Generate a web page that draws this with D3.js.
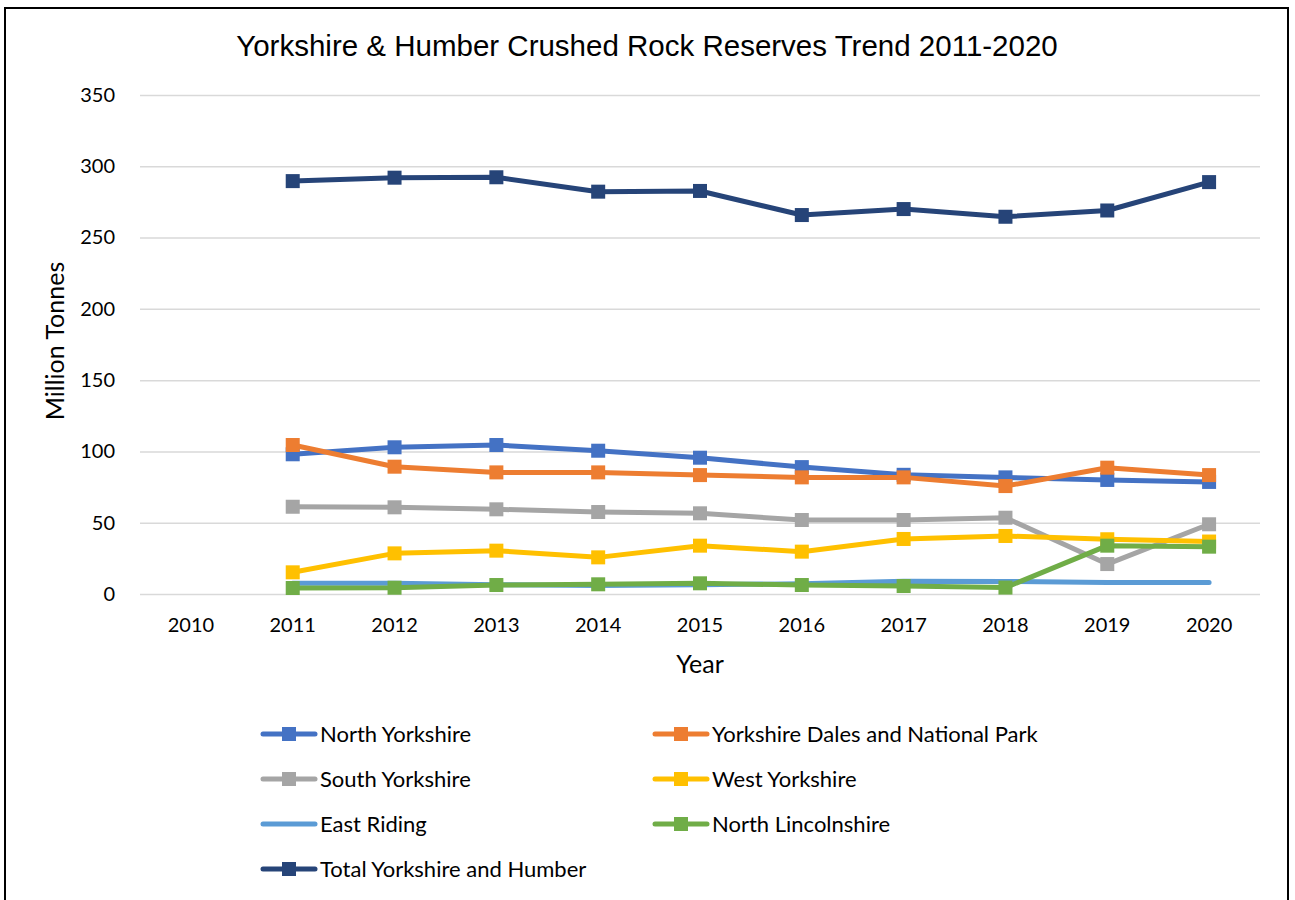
<!DOCTYPE html>
<html>
<head>
<meta charset="utf-8">
<script src="https://cdn.jsdelivr.net/npm/d3@7"></script>
<style>
  html, body { margin: 0; padding: 0; background: #fff; }
  svg { display: block; }
</style>
</head>
<body>
<svg id="chart" width="1295" height="900"></svg>
<script>
// Categories (2010 has no data, but keeps its slot on the axis)
const years = ["2010", "2011", "2012", "2013", "2014", "2015", "2016", "2017", "2018", "2019", "2020"];

// Reserves in million tonnes, one array per area
const northYorkshire  = [null, 98, 102.9, 104.5, 100.5, 95.6, 89.0, 83.6, 81.8, 80.0, 78.6];
const yorkshireDales  = [null, 104.5, 89.3, 85.3, 85.3, 83.4, 81.8, 81.8, 75.7, 88.6, 83.4];
const southYorkshire  = [null, 61.2, 60.8, 59.4, 57.5, 56.6, 51.9, 51.9, 53.5, 21.0, 48.9];
const westYorkshire   = [null, 15.2, 28.5, 30.4, 25.7, 33.9, 29.7, 38.6, 40.7, 38.4, 36.8];
const eastRiding      = [null, 7.5, 7.5, 6.5, 6.0, 6.5, 7.2, 9.0, 8.8, 8.0, 8.0];
const northLincs      = [null, 4.2, 4.4, 6.3, 6.8, 7.5, 6.3, 5.6, 4.5, 33.9, 33.2];
const totalYH         = [null, 289.6, 292.0, 292.3, 282.2, 282.7, 265.8, 270.0, 264.6, 269.0, 288.9];

const yTicks = [0, 50, 100, 150, 200, 250, 300, 350];

const seriesNames = [
  "North Yorkshire", "Yorkshire Dales and National Park", "South Yorkshire",
  "West Yorkshire", "East Riding", "North Lincolnshire", "Total Yorkshire and Humber"
];
const seriesValues = [northYorkshire, yorkshireDales, southYorkshire, westYorkshire, eastRiding, northLincs, totalYH];
const seriesColors = ["#4472C4", "#ED7D31", "#A5A5A5", "#FFC000", "#5B9BD5", "#70AD47", "#264478"];
const seriesMarkers = [true, true, true, true, false, true, true];

const series = seriesNames.map((name, i) => ({
  name,
  color: seriesColors[i],
  marker: seriesMarkers[i],
  points: years.map((yr, j) => ({ year: yr, value: seriesValues[i][j] }))
}));

const svg = d3.select("#chart");
const labelFont = "Lato, 'Open Sans', sans-serif";

// Outer frame
svg.append("rect")
  .attr("x", 5).attr("y", 8)
  .attr("width", 1283).attr("height", 900)
  .attr("fill", "#fff")
  .attr("stroke", "#000").attr("stroke-width", 2);

// Title
svg.append("text")
  .attr("x", 647).attr("y", 56)
  .attr("text-anchor", "middle")
  .attr("font-family", "'Liberation Sans', Arial, sans-serif")
  .attr("font-size", 29.5)
  .attr("fill", "#000")
  .text("Yorkshire & Humber Crushed Rock Reserves Trend 2011-2020");

const plotLeft = 140, plotRight = 1260, plotTop = 95, plotBottom = 594;

const x = d3.scaleBand().domain(years).range([plotLeft, plotRight]).padding(0);
const xc = d => x(d) + x.bandwidth() / 2;
const y = d3.scaleLinear().domain([0, 350]).range([plotBottom, plotTop]);

// Gridlines and y-axis labels
const yAxis = d3.axisLeft(y)
  .tickValues(yTicks)
  .tickSize(-(plotRight - plotLeft))
  .tickPadding(25)
  .tickFormat(d3.format("d"));

const gy = svg.append("g")
  .attr("transform", `translate(${plotLeft},0)`)
  .call(yAxis);
gy.select(".domain").remove();
gy.selectAll(".tick line").attr("stroke", "#d9d9d9").attr("stroke-width", 1.5);
gy.selectAll(".tick text")
  .attr("font-family", labelFont)
  .attr("font-size", 20)
  .attr("fill", "#000");

// X-axis labels
const xAxis = d3.axisBottom(x).tickSize(0).tickPadding(24);
const gx = svg.append("g")
  .attr("transform", `translate(0,${plotBottom})`)
  .call(xAxis);
gx.select(".domain").remove();
gx.selectAll(".tick text")
  .attr("font-family", labelFont)
  .attr("font-size", 20)
  .attr("fill", "#000");

// Axis titles
svg.append("text")
  .attr("x", 700).attr("y", 673)
  .attr("text-anchor", "middle")
  .attr("font-family", labelFont)
  .attr("font-size", 25)
  .attr("fill", "#000")
  .text("Year");

svg.append("text")
  .attr("transform", "translate(64,341) rotate(-90)")
  .attr("text-anchor", "middle")
  .attr("font-family", labelFont)
  .attr("font-size", 25)
  .attr("fill", "#000")
  .text("Million Tonnes");

// Series lines and markers
const line = d3.line()
  .defined(d => d.value !== null)
  .x(d => xc(d.year))
  .y(d => y(d.value));

const markerSize = 14;

series.forEach(s => {
  const g = svg.append("g");
  g.append("path")
    .datum(s.points)
    .attr("d", line)
    .attr("fill", "none")
    .attr("stroke", s.color)
    .attr("stroke-width", 5)
    .attr("stroke-linejoin", "round")
    .attr("stroke-linecap", "round");
  if (s.marker) {
    g.selectAll("rect")
      .data(s.points.filter(d => d.value !== null))
      .join("rect")
      .attr("x", d => xc(d.year) - markerSize / 2)
      .attr("y", d => y(d.value) - markerSize / 2)
      .attr("width", markerSize)
      .attr("height", markerSize)
      .attr("fill", s.color);
  }
});

// Legend: two columns, filled row by row
const legendCols = [261, 653];
const legendRows = [734, 779, 824, 869];
const legend = svg.append("g");
series.forEach((s, i) => {
  const lx = legendCols[i % 2];
  const ly = legendRows[Math.floor(i / 2)];
  const item = legend.append("g").attr("transform", `translate(${lx},${ly})`);
  item.append("line")
    .attr("x1", 2).attr("x2", 54)
    .attr("y1", 0).attr("y2", 0)
    .attr("stroke", s.color)
    .attr("stroke-width", 5)
    .attr("stroke-linecap", "round");
  if (s.marker) {
    item.append("rect")
      .attr("x", 28 - 7).attr("y", -7)
      .attr("width", 14).attr("height", 14)
      .attr("fill", s.color);
  }
  item.append("text")
    .attr("x", 59).attr("y", 8)
    .attr("font-family", labelFont)
    .attr("font-size", 22)
    .attr("fill", "#000")
    .text(s.name);
});
</script>
</body>
</html>
